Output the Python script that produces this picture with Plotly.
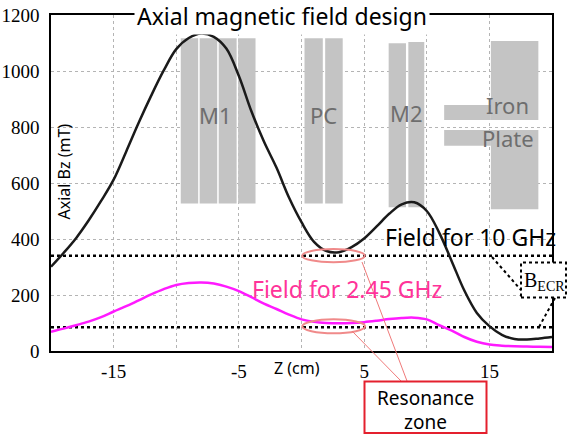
import plotly.graph_objects as go

# ---- data ----
z_pts = [-20, -19, -18, -17, -16, -15, -14, -13, -12, -11, -10, -9, -8, -7, -6, -5, -4, -3, -2, -1,
         0, 1, 2, 3, 4, 5, 6, 7, 8, 9, 10, 11, 12, 13, 14, 15, 16, 17, 18, 19, 20]
b_10ghz = [301, 350, 403, 466, 536, 612, 712, 815, 912, 1002, 1078, 1118, 1134, 1122, 1080, 982, 856, 748, 655, 548,
           460, 390, 357, 353, 371, 402, 445, 490, 524, 531, 500, 422, 320, 216, 136, 89, 58, 43, 41, 45, 50]
b_245ghz = [69, 80, 92, 105, 121, 141, 160, 181, 202, 221, 236, 243, 245, 241, 230, 214, 192, 169, 150, 130,
            113, 104, 100, 99, 100, 103, 108, 114, 118, 119, 113, 92, 73, 50, 33, 23, 19, 17, 16, 15, 14]

z_range = [-20, 20]
b_ecr_10ghz = 340
b_ecr_245ghz = 85

x_tickvals = [-15, -10, -5, 0, 5, 10, 15]
x_ticktext = ["-15", "", "-5", "", "5", "", "15"]
y_tickvals = [0, 200, 400, 600, 800, 1000, 1200]

# magnet blocks: (z0, z1, b0, b1) in axis units
magnet_blocks = [
    (-9.64, -8.25, 527, 1117), (-8.13, -6.73, 527, 1117), (-6.61, -5.18, 527, 1117), (-5.06, -3.67, 527, 1117),
    (0.24, 1.70, 527, 1117), (1.89, 3.29, 527, 1117),
    (6.96, 8.34, 513, 1099), (8.53, 9.80, 513, 1104),
    (15.12, 18.91, 825, 1107), (11.39, 15.12, 825, 879),
    (15.12, 18.91, 506, 789), (11.39, 15.12, 733, 789),
]
magnet_labels = [("M1", -6.85, 843), ("PC", 1.76, 843), ("M2", 8.38, 850),
                 ("Iron", 16.45, 879), ("Plate", 16.45, 761)]
resonance_ellipses = [(0.06, 5.05, 317, 364), (0.06, 5.08, 63, 113)]

# ---- figure ----
L, R, T, B = 51, 15, 15, 84
W, H = 567, 435
PW, PH = W - L - R, H - T - B


def px(x):
    return (x - L) / PW


def py(y):
    return (H - B - y) / PH


fig = go.Figure()

fig.add_trace(go.Scatter(x=z_range, y=[b_ecr_10ghz] * 2, mode="lines",
                         line=dict(color="black", width=2.5, dash="dot"), hoverinfo="skip"))
fig.add_trace(go.Scatter(x=z_range, y=[b_ecr_245ghz] * 2, mode="lines",
                         line=dict(color="black", width=2.5, dash="dot"), hoverinfo="skip"))
fig.add_trace(go.Scatter(x=z_pts, y=b_245ghz, mode="lines",
                         line=dict(color="#ff1aff", width=2.5, shape="spline", smoothing=1.0)))
fig.add_trace(go.Scatter(x=z_pts, y=b_10ghz, mode="lines",
                         line=dict(color="#1a1a1a", width=2.5, shape="spline", smoothing=1.0)))

shapes = []
for z0, z1, b0, b1 in magnet_blocks:
    shapes.append(dict(type="rect", xref="x", yref="y", x0=z0, x1=z1, y0=b0, y1=b1,
                       fillcolor="#c4c4c4", line=dict(width=0), layer="between"))
for z0, z1, b0, b1 in resonance_ellipses:
    shapes.append(dict(type="circle", xref="x", yref="y", x0=z0, x1=z1, y0=b0, y1=b1,
                       line=dict(color="#f08a8a", width=2), layer="above"))

# connector lines to the "Resonance zone" box
shapes.append(dict(type="line", xref="paper", yref="paper", x0=px(362), y0=py(262), x1=px(407), y1=py(381),
                   line=dict(color="#f07a7a", width=1)))
shapes.append(dict(type="line", xref="paper", yref="paper", x0=px(352), y0=py(331), x1=px(401), y1=py(381),
                   line=dict(color="#f07a7a", width=1)))
# Resonance zone box
shapes.append(dict(type="rect", xref="paper", yref="paper", x0=px(364.5), x1=px(486.5), y0=py(433), y1=py(381.5),
                   line=dict(color="#e4202e", width=2), fillcolor="white"))
# B_ECR box and dotted connectors
shapes.append(dict(type="rect", xref="paper", yref="paper", x0=px(521), x1=px(566), y0=py(297.5), y1=py(262.5),
                   line=dict(color="black", width=2, dash="dot"), fillcolor="white"))
shapes.append(dict(type="line", xref="paper", yref="paper", x0=px(492), y0=py(257), x1=px(521), y1=py(290),
                   line=dict(color="black", width=2, dash="dot")))
shapes.append(dict(type="line", xref="paper", yref="paper", x0=px(555), y0=py(298), x1=px(539), y1=py(327),
                   line=dict(color="black", width=2, dash="dot")))

sans = "Noto Sans"
serif = "Liberation Serif, Times New Roman, serif"
annotations = []
for text, zx, by in magnet_labels:
    annotations.append(dict(x=zx, y=by, xref="x", yref="y", text=text, showarrow=False,
                            xanchor="center", yanchor="middle",
                            font=dict(family=sans, size=22, color="#6e6e6e")))


def note(xp, yp, text, size, color="black", family=sans, **kw):
    return dict(x=px(xp), y=py(yp), xref="paper", yref="paper", text=text, showarrow=False,
                xanchor="center", yanchor="middle",
                font=dict(family=family, size=size, color=color), **kw)


annotations += [
    note(282, 16, "Axial magnetic field design", 23, bgcolor="white", borderpad=2),
    note(470, 237, "Field for 10 GHz", 23),
    note(347, 289, "Field for 2.45 GHz", 23, color="#ff3399"),
    note(63.5, 172, "Axial Bz (mT)", 16, textangle=-90),
    note(297, 368, "Z (cm)", 16),
    note(425.5, 398, "Resonance", 19),
    note(425.5, 422, "zone", 19),
    note(544, 281, "B<sub>ECR</sub>", 20, family=serif),
]

fig.update_layout(
    width=W, height=H,
    margin=dict(l=L, r=R, t=T, b=B, autoexpand=False),
    paper_bgcolor="white", plot_bgcolor="white",
    showlegend=False,
    shapes=shapes,
    annotations=annotations,
    font=dict(family=serif),
    xaxis=dict(range=z_range, tickvals=x_tickvals, ticktext=x_ticktext, automargin=False,
               showgrid=True, gridcolor="#b4b4b4", griddash="dot", gridwidth=1,
               showline=True, linecolor="black", linewidth=1.5, mirror=True,
               zeroline=False, ticks="", ticklabelstandoff=2,
               tickfont=dict(family=serif, size=19, color="black")),
    yaxis=dict(range=[0, 1200], tickvals=y_tickvals, automargin=False,
               showgrid=True, gridcolor="#b4b4b4", griddash="dot", gridwidth=1,
               showline=True, linecolor="black", linewidth=1.5, mirror=True,
               zeroline=False, ticks="", ticklabelstandoff=6,
               tickfont=dict(family=serif, size=19, color="black")),
)

fig.write_html("out.html")
